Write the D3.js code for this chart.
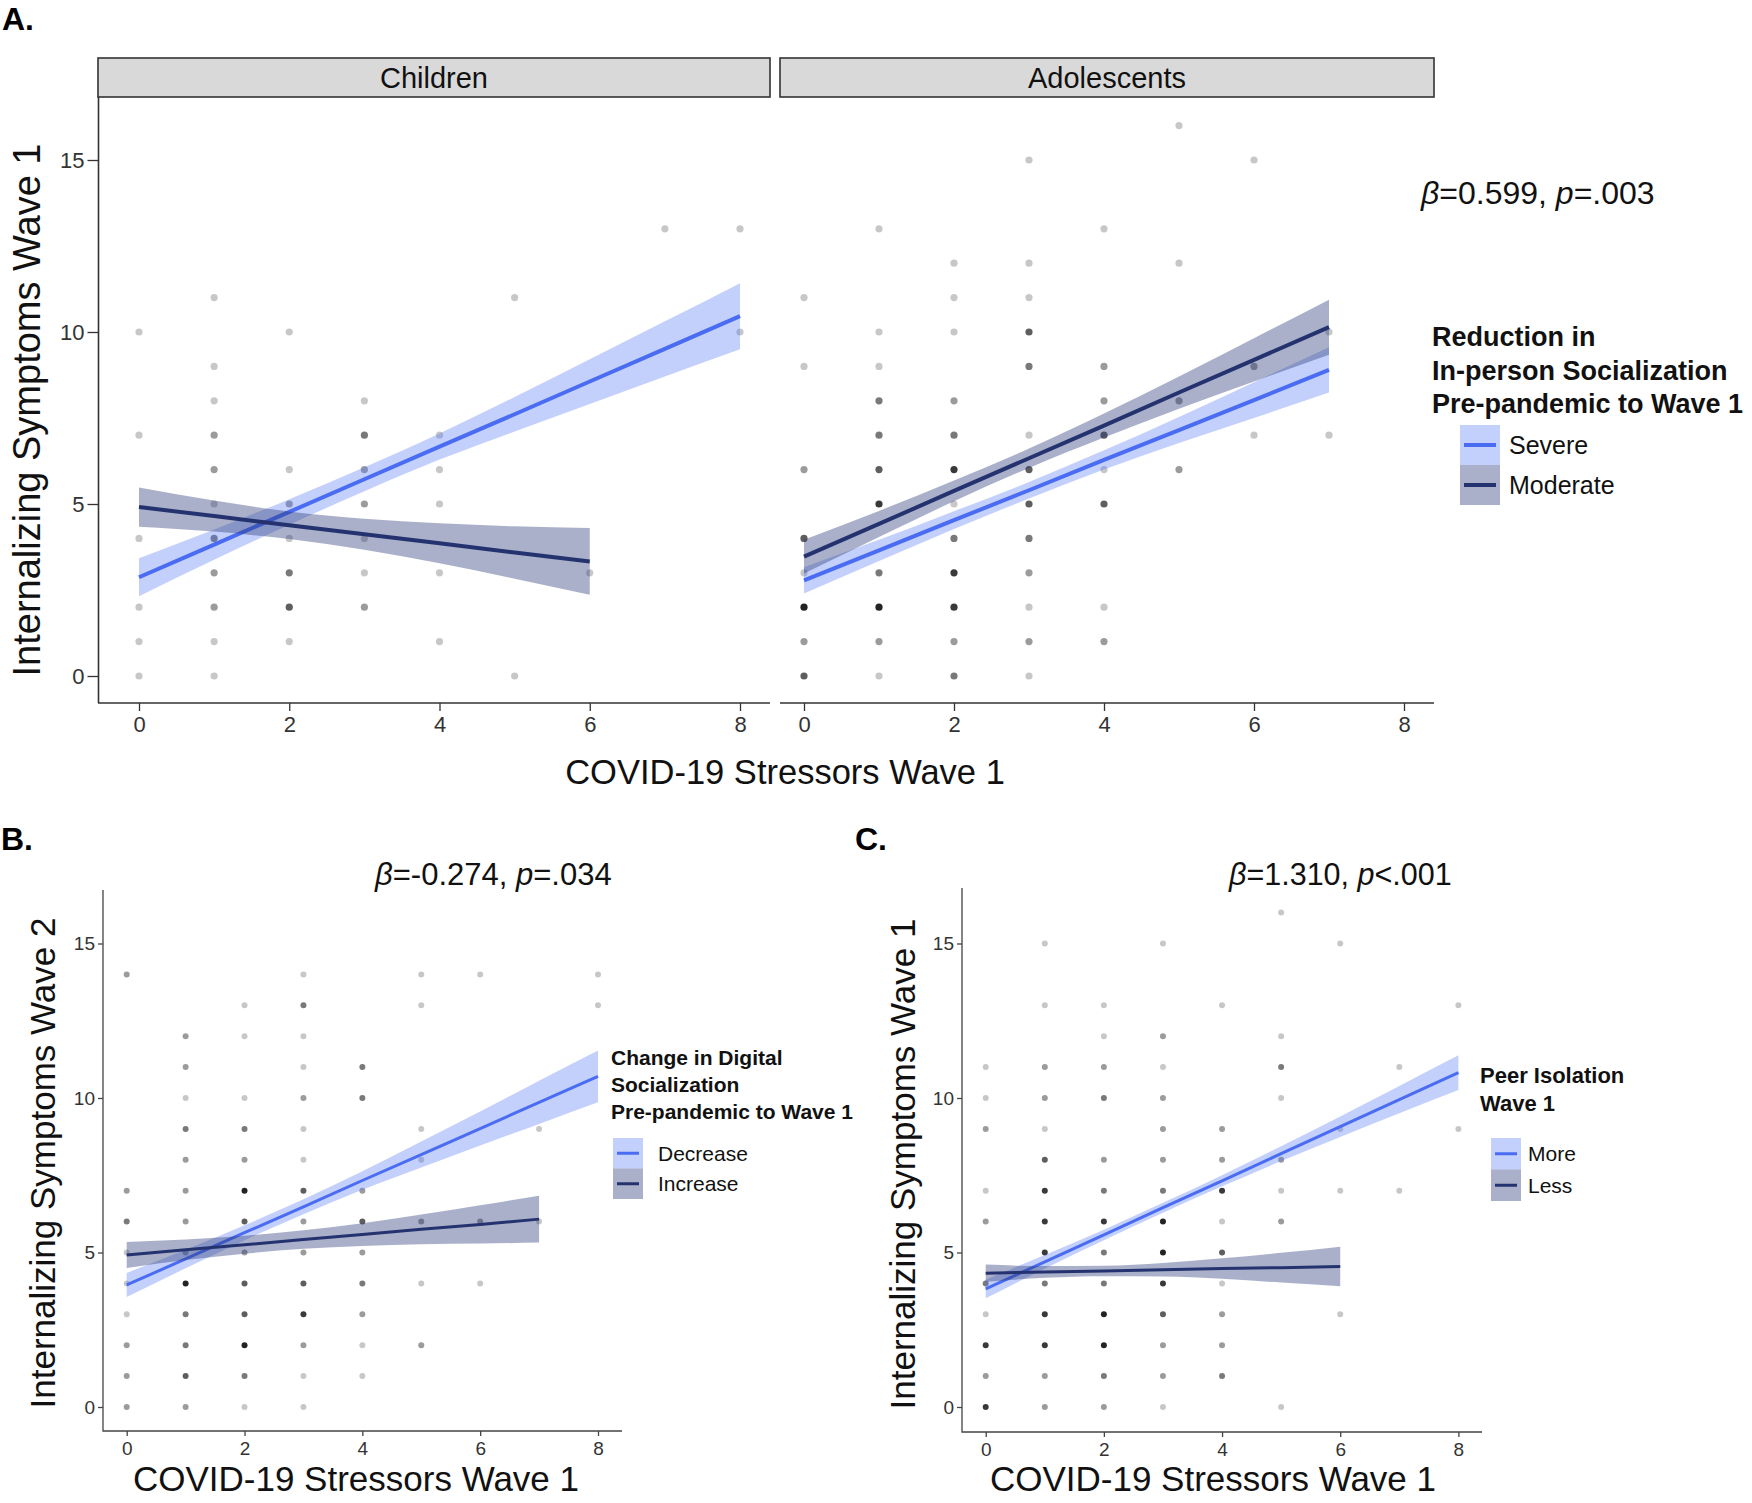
<!DOCTYPE html>
<html><head><meta charset="utf-8">
<script src="https://cdn.jsdelivr.net/npm/d3@7"></script>
<style>
body{margin:0;background:#fff}
text{font-family:"Liberation Sans",Arial,Helvetica,sans-serif}
</style>
</head><body>
<script>
// ---------------- DATA ----------------
const xTicks = [0, 2, 4, 6, 8];
const yTicks = [0, 5, 10, 15];
const facetLabels = ["Children", "Adolescents"];

// points: [stressors, symptoms, number of overlapping observations]
const childrenPoints = [
  [0,10,1],[0,7,1],[0,4,1],[0,2,1],[0,1,1],[0,0,1],
  [1,11,1],[1,9,1],[1,8,1],[1,7,2],[1,6,2],[1,5,1],[1,4,3],[1,3,2],[1,2,2],[1,1,1],[1,0,1],
  [2,10,1],[2,6,1],[2,5,2],[2,4,1],[2,3,3],[2,2,4],[2,1,1],
  [3,8,1],[3,7,3],[3,6,2],[3,5,2],[3,4,1],[3,3,1],[3,2,2],
  [4,7,1],[4,6,1],[4,5,1],[4,3,1],[4,1,1],
  [5,11,1],[5,0,1],[6,3,1],[7,13,1],[8,13,1],[8,10,1]
];
const adolescentPoints = [
  [0,11,1],[0,9,1],[0,6,2],[0,4,4],[0,3,1],[0,2,8],[0,1,2],[0,0,4],
  [1,13,1],[1,10,1],[1,9,1],[1,8,3],[1,7,3],[1,6,4],[1,5,6],[1,3,3],[1,2,8],[1,1,2],[1,0,1],
  [2,12,1],[2,11,1],[2,10,1],[2,8,2],[2,7,3],[2,6,6],[2,5,1],[2,4,3],[2,3,6],[2,2,6],[2,1,2],[2,0,3],
  [3,15,1],[3,12,1],[3,11,1],[3,10,4],[3,9,3],[3,7,1],[3,6,4],[3,5,4],[3,4,3],[3,3,2],[3,2,1],[3,1,2],[3,0,1],
  [4,13,1],[4,9,2],[4,8,2],[4,7,4],[4,6,1],[4,5,4],[4,2,1],[4,1,2],
  [5,16,1],[5,12,1],[5,8,2],[5,6,2],
  [6,15,1],[6,9,2],[6,7,1],
  [7,10,1],[7,7,1]
];
const panelBPoints = [
  [0,14,2],[0,7,2],[0,6,3],[0,5,1],[0,4,1],[0,3,1],[0,2,2],[0,1,2],[0,0,2],
  [1,12,2],[1,11,2],[1,10,1],[1,9,3],[1,8,2],[1,7,2],[1,6,2],[1,5,2],[1,4,8],[1,3,3],[1,2,3],[1,1,4],[1,0,2],
  [2,13,1],[2,12,1],[2,10,1],[2,9,3],[2,8,2],[2,7,8],[2,6,4],[2,5,2],[2,4,4],[2,3,4],[2,2,8],[2,1,3],[2,0,1],
  [3,14,1],[3,13,3],[3,12,1],[3,11,1],[3,10,2],[3,9,1],[3,8,1],[3,7,4],[3,6,2],[3,5,2],[3,4,4],[3,3,6],[3,2,2],[3,1,1],[3,0,1],
  [4,11,3],[4,10,3],[4,7,2],[4,6,4],[4,5,2],[4,4,3],[4,3,2],[4,2,1],[4,1,1],
  [5,14,1],[5,13,1],[5,9,1],[5,8,1],[5,6,2],[5,4,1],[5,2,2],
  [6,14,1],[6,6,2],[6,4,1],
  [7,9,1],[7,6,1],
  [8,14,1],[8,13,1]
];
const panelCPoints = [
  [0,11,1],[0,10,1],[0,9,2],[0,7,1],[0,6,2],[0,4,3],[0,3,1],[0,2,6],[0,1,2],[0,0,6],
  [1,15,1],[1,13,1],[1,11,2],[1,10,2],[1,9,1],[1,8,4],[1,7,6],[1,6,6],[1,5,6],[1,4,3],[1,3,6],[1,2,6],[1,1,2],[1,0,2],
  [2,13,1],[2,12,1],[2,11,2],[2,10,3],[2,8,2],[2,7,3],[2,6,6],[2,5,3],[2,4,3],[2,3,8],[2,2,8],[2,1,3],[2,0,2],
  [3,15,1],[3,12,2],[3,11,1],[3,10,2],[3,9,2],[3,8,2],[3,7,3],[3,6,8],[3,5,8],[3,4,6],[3,3,4],[3,2,2],[3,1,2],[3,0,1],
  [4,13,1],[4,9,2],[4,8,2],[4,7,6],[4,6,1],[4,5,4],[4,4,1],[4,3,2],[4,2,2],[4,1,3],
  [5,16,1],[5,12,1],[5,11,3],[5,10,1],[5,8,2],[5,7,1],[5,6,2],[5,0,1],
  [6,15,1],[6,9,1],[6,7,1],[6,3,1],
  [7,11,1],[7,7,1],
  [8,13,1],[8,9,1]
];

// fitted regression lines with 95% CI bands (read at integer x)
const fitX9 = [0,1,2,3,4,5,6,7,8];
const fitX8 = [0,1,2,3,4,5,6,7];
const fitX7 = [0,1,2,3,4,5,6];

const childSevereFit = [2.87,3.82,4.77,5.72,6.67,7.61,8.56,9.51,10.46];
const childSevereLo  = [2.32,3.38,4.40,5.37,6.29,7.11,7.91,8.71,9.50];
const childSevereHi  = [3.42,4.26,5.14,6.07,7.05,8.11,9.21,10.31,11.42];
const childModFit = [4.91,4.65,4.38,4.12,3.86,3.59,3.33];
const childModLo  = [4.34,4.20,3.98,3.67,3.28,2.83,2.36];
const childModHi  = [5.48,5.10,4.78,4.57,4.44,4.35,4.30];

const adolSevereFit = [2.78,3.65,4.53,5.40,6.28,7.15,8.02,8.90];
const adolSevereLo  = [2.40,3.34,4.27,5.16,6.00,6.77,7.50,8.24];
const adolSevereHi  = [3.16,3.96,4.79,5.64,6.56,7.53,8.54,9.56];
const adolModFit = [3.47,4.42,5.38,6.33,7.28,8.24,9.19,10.14];
const adolModLo  = [2.98,4.04,5.08,6.05,6.93,7.77,8.56,9.34];
const adolModHi  = [3.96,4.80,5.68,6.61,7.63,8.71,9.82,10.94];

const bDecFit = [3.95,4.79,5.64,6.48,7.33,8.17,9.01,9.86,10.70];
const bDecLo  = [3.56,4.49,5.40,6.24,7.03,7.75,8.46,9.16,9.86];
const bDecHi  = [4.34,5.09,5.88,6.72,7.63,8.59,9.56,10.56,11.54];
const bIncFit = [4.92,5.09,5.25,5.42,5.58,5.75,5.91,6.08];
const bIncLo  = [4.50,4.76,4.96,5.12,5.21,5.27,5.29,5.32];
const bIncHi  = [5.34,5.42,5.54,5.72,5.95,6.23,6.53,6.84];

const cMoreFit = [3.82,4.70,5.57,6.45,7.32,8.20,9.07,9.95,10.82];
const cMoreLo  = [3.52,4.48,5.40,6.29,7.14,7.96,8.74,9.51,10.26];
const cMoreHi  = [4.12,4.92,5.74,6.61,7.50,8.44,9.40,10.39,11.38];
const cLessFit = [4.33,4.37,4.40,4.44,4.48,4.51,4.55];
const cLessLo  = [4.05,4.18,4.23,4.22,4.15,4.03,3.91];
const cLessHi  = [4.61,4.56,4.57,4.66,4.81,4.99,5.19];

const legendATitle = ["Reduction in", "In-person Socialization", "Pre-pandemic to Wave 1"];
const legendALabels = ["Severe", "Moderate"];
const legendBTitle = ["Change in Digital", "Socialization", "Pre-pandemic to Wave 1"];
const legendBLabels = ["Decrease", "Increase"];
const legendCTitle = ["Peer Isolation", "Wave 1"];
const legendCLabels = ["More", "Less"];

// ---------------- STYLE ----------------
const LIGHT = "#4a6cf2", DARK = "#24336f";
const LIGHT_FILL = "#5a7cf5", DARK_FILL = "#2a3a78";
const LIGHT_OP = 0.36, DARK_OP = 0.40;
const PT_ALPHA = 0.22;

const svg = d3.select("body").append("svg").attr("width", 1752).attr("height", 1503)
  .style("background", "#fff");

function series(xs, fit, lo, hi) {
  return xs.map((x, i) => ({x, fit: fit[i], lo: lo[i], hi: hi[i]}));
}

function drawData(g, x, y, pts, r, fits, lw) {
  g.append("g").selectAll("circle").data(pts).join("circle")
    .attr("cx", d => x(d[0])).attr("cy", d => y(d[1])).attr("r", r)
    .attr("fill", "#000").attr("fill-opacity", d => 1 - Math.pow(1 - PT_ALPHA, d[2]));
  fits.forEach(f => {
    const area = d3.area().x(d => x(d.x)).y0(d => y(d.lo)).y1(d => y(d.hi)).curve(d3.curveMonotoneX);
    g.append("path").datum(f.data).attr("d", area)
      .attr("fill", f.fill).attr("fill-opacity", f.op);
    const line = d3.line().x(d => x(d.x)).y(d => y(d.fit));
    g.append("path").datum(f.data).attr("d", line)
      .attr("fill", "none").attr("stroke", f.color).attr("stroke-width", lw);
  });
}

function styleAxis(ag, fs, col) {
  ag.select(".domain").remove();
  ag.selectAll(".tick line").attr("stroke", col).attr("stroke-width", 1.3);
  ag.selectAll(".tick text").attr("fill", "#333").style("font-size", fs + "px")
    .style("font-family", '"Liberation Sans",Arial,sans-serif');
}

function legend(cfg) {
  const g = svg.append("g");
  cfg.title.forEach((t, i) => {
    g.append("text").attr("x", cfg.tx).attr("y", cfg.ty + i * cfg.tdy)
      .attr("font-weight", "bold").attr("font-size", cfg.tfs).attr("fill", "#111").text(t);
  });
  const fills = [[LIGHT_FILL, LIGHT_OP, LIGHT], [DARK_FILL, DARK_OP, DARK]];
  cfg.labels.forEach((lab, i) => {
    const ky = cfg.ky + i * cfg.kh;
    g.append("rect").attr("x", cfg.kx).attr("y", ky).attr("width", cfg.kw).attr("height", cfg.kh)
      .attr("fill", fills[i][0]).attr("fill-opacity", fills[i][1]);
    g.append("line").attr("x1", cfg.kx + 4).attr("x2", cfg.kx + cfg.kw - 4)
      .attr("y1", ky + cfg.kh / 2).attr("y2", ky + cfg.kh / 2)
      .attr("stroke", fills[i][2]).attr("stroke-width", cfg.lw);
    g.append("text").attr("x", cfg.lx).attr("y", ky + cfg.kh / 2 + cfg.lfs * 0.36)
      .attr("font-size", cfg.lfs).attr("fill", "#111").text(lab);
  });
}

function betaText(x, yb, fs, parts) {
  const t = svg.append("text").attr("x", x).attr("y", yb).attr("font-size", fs).attr("fill", "#111");
  parts.forEach(p => t.append("tspan").attr("font-style", p[1] ? "italic" : "normal").text(p[0]));
}

// ---------------- PANEL A ----------------
const A_BOTTOM = 703, A_TOP = 97;
const yA = d3.scaleLinear().domain([0, 15]).range([676, 160]);
const xAc = d3.scaleLinear().domain([0, 8]).range([139, 740]);
const xAa = d3.scaleLinear().domain([0, 8]).range([804, 1404]);
const facets = [
  {x: xAc, left: 98, right: 770, pts: childrenPoints,
   fits: [{data: series(fitX9, childSevereFit, childSevereLo, childSevereHi), fill: LIGHT_FILL, op: LIGHT_OP, color: LIGHT},
          {data: series(fitX7, childModFit, childModLo, childModHi), fill: DARK_FILL, op: DARK_OP, color: DARK}]},
  {x: xAa, left: 780, right: 1434, pts: adolescentPoints,
   fits: [{data: series(fitX8, adolSevereFit, adolSevereLo, adolSevereHi), fill: LIGHT_FILL, op: LIGHT_OP, color: LIGHT},
          {data: series(fitX8, adolModFit, adolModLo, adolModHi), fill: DARK_FILL, op: DARK_OP, color: DARK}]}
];
facets.forEach((f, i) => {
  const g = svg.append("g");
  // strip
  g.append("rect").attr("x", f.left).attr("y", 58).attr("width", f.right - f.left).attr("height", A_TOP - 58)
    .attr("fill", "#d9d9d9").attr("stroke", "#333").attr("stroke-width", 1.6);
  g.append("text").attr("x", (f.left + f.right) / 2).attr("y", 88).attr("text-anchor", "middle")
    .attr("font-size", 29).attr("fill", "#111").text(facetLabels[i]);
  drawData(g, f.x, yA, f.pts, 3.6, f.fits, 4);
  // axes
  const ax = g.append("g").attr("transform", `translate(0,${A_BOTTOM})`)
    .call(d3.axisBottom(f.x).tickValues(xTicks).tickSize(8).tickPadding(5).tickFormat(d3.format("d")));
  styleAxis(ax, 22, "#333");
  g.append("line").attr("x1", f.left).attr("x2", f.right).attr("y1", A_BOTTOM).attr("y2", A_BOTTOM)
    .attr("stroke", "#333").attr("stroke-width", 1.6);
  if (i === 0) {
    const ay = g.append("g").attr("transform", "translate(98.5,0)")
      .call(d3.axisLeft(yA).tickValues(yTicks).tickSize(11).tickPadding(3).tickFormat(d3.format("d")));
    styleAxis(ay, 22, "#333");
    g.append("line").attr("x1", 98.5).attr("x2", 98.5).attr("y1", A_TOP).attr("y2", A_BOTTOM)
      .attr("stroke", "#333").attr("stroke-width", 1.6);
  }
});
svg.append("text").attr("x", 2).attr("y", 30).attr("font-size", 32).attr("font-weight", "bold").text("A.");
svg.append("text").attr("transform", "translate(40,410) rotate(-90)").attr("text-anchor", "middle")
  .attr("font-size", 38).attr("fill", "#111").text("Internalizing Symptoms Wave 1");
svg.append("text").attr("x", 785).attr("y", 784).attr("text-anchor", "middle")
  .attr("font-size", 34.5).attr("fill", "#111").text("COVID-19 Stressors Wave 1");
betaText(1421, 204, 32, [["β", true], ["=0.599, ", false], ["p", true], ["=.003", false]]);
legend({title: legendATitle, tx: 1432, ty: 346, tdy: 33.5, tfs: 27, labels: legendALabels,
        kx: 1460, ky: 425, kw: 40, kh: 40, lw: 4, lx: 1509, lfs: 25});

// ---------------- PANELS B, C ----------------
function smallPanel(cfg) {
  const g = svg.append("g");
  const x = d3.scaleLinear().domain([0, 8]).range(cfg.xr);
  const y = d3.scaleLinear().domain([0, 15]).range([1407, 943.5]);
  drawData(g, x, y, cfg.pts, 3, cfg.fits, 3);
  const ax = g.append("g").attr("transform", `translate(0,${cfg.bottom})`)
    .call(d3.axisBottom(x).tickValues(xTicks).tickSize(5).tickPadding(6).tickFormat(d3.format("d")));
  styleAxis(ax, 19, "#444");
  const ay = g.append("g").attr("transform", `translate(${cfg.left},0)`)
    .call(d3.axisLeft(y).tickValues(yTicks).tickSize(5).tickPadding(3).tickFormat(d3.format("d")));
  styleAxis(ay, 19, "#444");
  g.append("path").attr("d", `M${cfg.left},${cfg.top}V${cfg.bottom}H${cfg.right}`)
    .attr("fill", "none").attr("stroke", "#444").attr("stroke-width", 1.3);
  svg.append("text").attr("x", cfg.labX).attr("y", 850).attr("font-size", 32).attr("font-weight", "bold").text(cfg.label);
  svg.append("text").attr("transform", `translate(${cfg.ytx},${cfg.yty}) rotate(-90)`).attr("text-anchor", "middle")
    .attr("font-size", 35).attr("fill", "#111").text(cfg.ytitle);
  svg.append("text").attr("x", cfg.xtx).attr("y", 1491).attr("text-anchor", "middle")
    .attr("font-size", 35).attr("fill", "#111").text("COVID-19 Stressors Wave 1");
}

smallPanel({xr: [126.7, 598], left: 103, right: 622, top: 890, bottom: 1431, pts: panelBPoints,
  fits: [{data: series(fitX9, bDecFit, bDecLo, bDecHi), fill: LIGHT_FILL, op: LIGHT_OP, color: LIGHT},
         {data: series(fitX8, bIncFit, bIncLo, bIncHi), fill: DARK_FILL, op: DARK_OP, color: DARK}],
  label: "B.", labX: 1, ytitle: "Internalizing Symptoms Wave 2", ytx: 55, yty: 1163, xtx: 356});
betaText(375, 885, 31, [["β", true], ["=-0.274, ", false], ["p", true], ["=.034", false]]);
legend({title: legendBTitle, tx: 611, ty: 1064.5, tdy: 27, tfs: 21, labels: legendBLabels,
        kx: 613, ky: 1138, kw: 30, kh: 30.5, lw: 3, lx: 658, lfs: 21});

smallPanel({xr: [985.7, 1458.4], left: 962, right: 1482, top: 888, bottom: 1432, pts: panelCPoints,
  fits: [{data: series(fitX9, cMoreFit, cMoreLo, cMoreHi), fill: LIGHT_FILL, op: LIGHT_OP, color: LIGHT},
         {data: series(fitX7, cLessFit, cLessLo, cLessHi), fill: DARK_FILL, op: DARK_OP, color: DARK}],
  label: "C.", labX: 855, ytitle: "Internalizing Symptoms Wave 1", ytx: 915, yty: 1164, xtx: 1213});
betaText(1229, 885, 30.5, [["β", true], ["=1.310, ", false], ["p", true], ["<.001", false]]);
legend({title: legendCTitle, tx: 1480, ty: 1083, tdy: 28, tfs: 22, labels: legendCLabels,
        kx: 1491, ky: 1138, kw: 30, kh: 31.5, lw: 3, lx: 1528, lfs: 21});
</script>
</body></html>
